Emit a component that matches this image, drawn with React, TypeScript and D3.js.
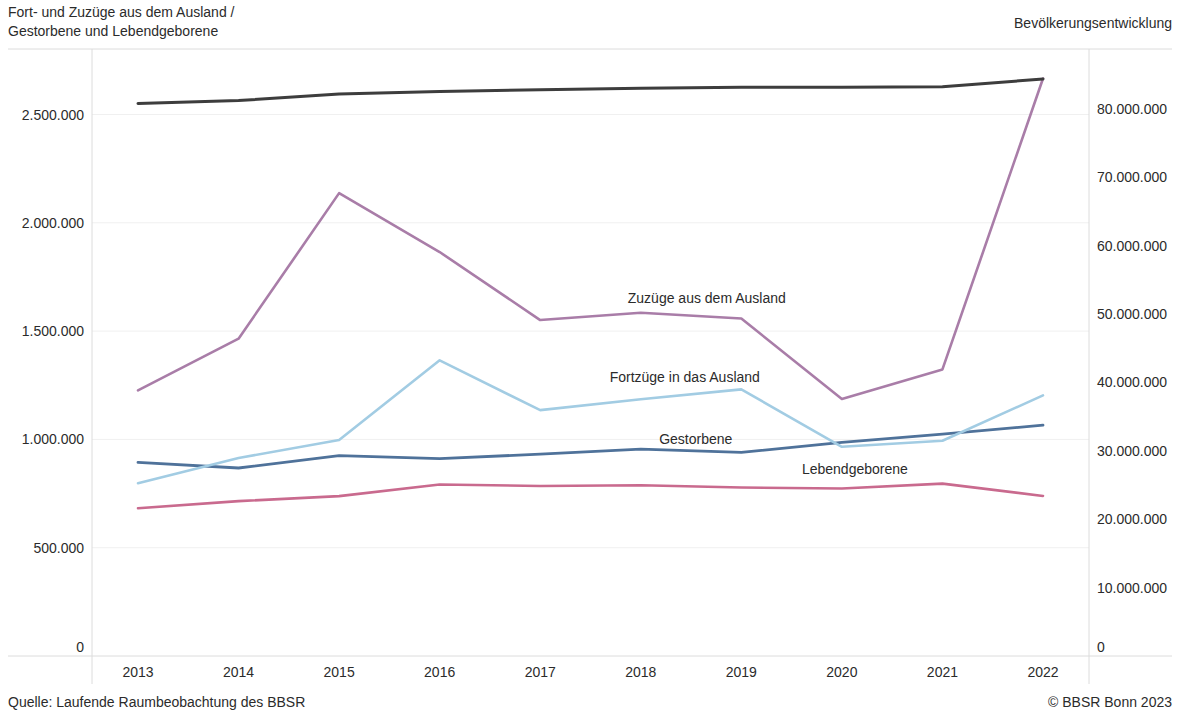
import React from "react";
import * as d3 from "d3";

const years = ["2013", "2014", "2015", "2016", "2017", "2018", "2019", "2020", "2021", "2022"];
const bevoelkerung = [80767000, 81198000, 82176000, 82522000, 82792000, 83019000, 83167000, 83155000, 83237000, 84359000];
const zuzuege = [1226000, 1465000, 2137000, 1865000, 1551000, 1585000, 1558000, 1187000, 1323000, 2666000];
const fortzuege = [798000, 914000, 997000, 1365000, 1135000, 1185000, 1231000, 966000, 994000, 1203000];
const gestorbene = [894000, 868000, 925000, 911000, 932000, 955000, 940000, 986000, 1024000, 1066000];
const lebendgeborene = [682000, 715000, 738000, 792000, 785000, 788000, 778000, 773000, 796000, 739000];
const leftTicks = [0, 500000, 1000000, 1500000, 2000000, 2500000];
const rightTicks = [0, 10000000, 20000000, 30000000, 40000000, 50000000, 60000000, 70000000, 80000000];

const fmt = (v: number) => d3.format(",")(v).replace(/,/g, ".");

export default function App() {
  const W = 1178, H = 711;
  const font = "'Liberation Sans', Arial, sans-serif";
  const axL = 92, axR = 1089, top = 49, bottom = 656;
  const x = d3.scalePoint<string>().domain(years).range([138, 1043]);
  const yL = d3.scaleLinear().domain([0, 500000]).range([bottom, bottom - 108.3]);
  const yR = d3.scaleLinear().domain([0, 10000000]).range([bottom, bottom - 68.4]);
  const lineL = (vals: number[]) =>
    d3.line<number>().x((_, i) => x(years[i])!).y((d) => yL(d))(vals) || "";
  const lineR = (vals: number[]) =>
    d3.line<number>().x((_, i) => x(years[i])!).y((d) => yR(d))(vals) || "";
  const series = [
    { vals: lebendgeborene, color: "#c96a8e", w: 2.6 },
    { vals: gestorbene, color: "#4f729a", w: 2.8 },
    { vals: fortzuege, color: "#a2cce3", w: 2.6 },
    { vals: zuzuege, color: "#a97da8", w: 2.6 },
  ];
  const txt = "#2b2b2b";
  return (
    <svg width={W} height={H} style={{ position: "absolute", left: 0, top: 0, background: "#fff" }} fontFamily={font}>
      <text x={8} y={17} fontSize={14} fill={txt}>Fort- und Zuzüge aus dem Ausland /</text>
      <text x={8} y={36} fontSize={14} fill={txt}>Gestorbene und Lebendgeborene</text>
      <text x={1172} y={28} fontSize={14} fill={txt} textAnchor="end">Bevölkerungsentwicklung</text>

      {leftTicks.slice(1).map((t) => (
        <line key={"g" + t} x1={axL} x2={axR} y1={yL(t)} y2={yL(t)} stroke="#f0f0f0" strokeWidth={1} />
      ))}
      <line x1={8} x2={1172} y1={top} y2={top} stroke="#dcdcdc" strokeWidth={1} />
      <line x1={8} x2={1172} y1={bottom} y2={bottom} stroke="#dcdcdc" strokeWidth={1} />
      <line x1={axL} x2={axL} y1={top} y2={684} stroke="#dcdcdc" strokeWidth={1} />
      <line x1={axR} x2={axR} y1={top} y2={684} stroke="#dcdcdc" strokeWidth={1} />

      {leftTicks.map((t) => (
        <text key={"l" + t} x={84} y={(t === 0 ? yL(t) - 9 : yL(t)) + 5} fontSize={14} fill={txt} textAnchor="end">
          {fmt(t)}
        </text>
      ))}
      {rightTicks.map((t) => (
        <text key={"r" + t} x={1097} y={(t === 0 ? yR(t) - 9 : yR(t)) + 5} fontSize={14} fill={txt}>
          {fmt(t)}
        </text>
      ))}
      {years.map((yv) => (
        <text key={yv} x={x(yv)!} y={677} fontSize={14} fill={txt} textAnchor="middle">{yv}</text>
      ))}

      {series.map((s, i) => (
        <path key={i} d={lineL(s.vals)} fill="none" stroke={s.color} strokeWidth={s.w} strokeLinejoin="round" strokeLinecap="round" />
      ))}
      <path d={lineR(bevoelkerung)} fill="none" stroke="#3d3d3d" strokeWidth={3} strokeLinejoin="round" strokeLinecap="round" />

      <text x={x("2018")! + 66} y={yL(zuzuege[5]) - 10} fontSize={14} fill={txt} textAnchor="middle">Zuzüge aus dem Ausland</text>
      <text x={x("2018")! + 44} y={yL(fortzuege[5]) - 17} fontSize={14} fill={txt} textAnchor="middle">Fortzüge in das Ausland</text>
      <text x={x("2018")! + 55} y={yL(gestorbene[5]) - 5} fontSize={14} fill={txt} textAnchor="middle">Gestorbene</text>
      <text x={x("2020")! + 13} y={yL(lebendgeborene[7]) - 15} fontSize={14} fill={txt} textAnchor="middle">Lebendgeborene</text>

      <text x={8} y={707} fontSize={14} fill={txt}>Quelle: Laufende Raumbeobachtung des BBSR</text>
      <text x={1172} y={707} fontSize={14} fill={txt} textAnchor="end">© BBSR Bonn 2023</text>
    </svg>
  );
}
